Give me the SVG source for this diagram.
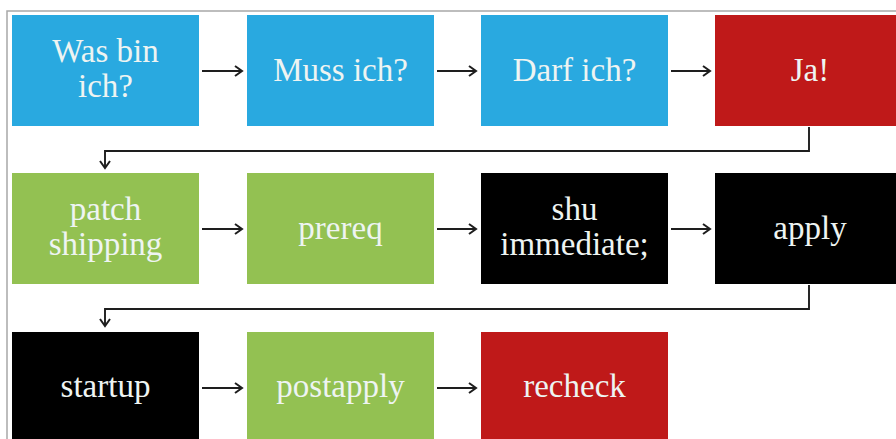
<svg xmlns="http://www.w3.org/2000/svg" width="896" height="439" viewBox="0 0 896 439">
<defs>
<style>
.b{fill:#29a9e0}.r{fill:#bf1919}.g{fill:#93c152}.k{fill:#000}
text{font-family:"Liberation Serif","DejaVu Serif",serif;font-size:33px;fill:#eef4f2;text-anchor:middle}
.c{fill:none;stroke:#1e1e1e;stroke-width:1.9}
</style>
<marker id="a" markerWidth="12" markerHeight="12" refX="10" refY="6" orient="auto" markerUnits="userSpaceOnUse">
<path d="M3,1 L10,6 L3,11" fill="none" stroke="#1e1e1e" stroke-width="2"/>
</marker>
</defs>
<rect width="896" height="439" fill="#fff"/>
<path d="M7,439 V11 H896" fill="none" stroke="#a8a8a8" stroke-width="1.5"/>
<g id="n1"><rect class="b" x="12" y="15" width="187" height="111"/><text x="105.5" y="62">Was bin</text><text x="105.5" y="97">ich?</text></g>
<g id="n2"><rect class="b" x="247" y="15" width="187" height="111"/><text x="340.5" y="81">Muss ich?</text></g>
<g id="n3"><rect class="b" x="481" y="15" width="187" height="111"/><text x="574.5" y="81">Darf ich?</text></g>
<g id="n4"><rect class="r" x="715" y="15" width="190" height="111"/><text x="810" y="81">Ja!</text></g>
<g id="n5"><rect class="g" x="12" y="173" width="187" height="111"/><text x="105.5" y="220">patch</text><text x="105.5" y="255">shipping</text></g>
<g id="n6"><rect class="g" x="247" y="173" width="187" height="111"/><text x="340.5" y="239">prereq</text></g>
<g id="n7"><rect class="k" x="481" y="173" width="187" height="111"/><text x="574.5" y="220">shu</text><text x="574.5" y="255">immediate;</text></g>
<g id="n8"><rect class="k" x="715" y="173" width="190" height="111"/><text x="810" y="239">apply</text></g>
<g id="n9"><rect class="k" x="12" y="332" width="187" height="111"/><text x="105.5" y="397">startup</text></g>
<g id="n10"><rect class="g" x="247" y="332" width="187" height="111"/><text x="340.5" y="397">postapply</text></g>
<g id="n11"><rect class="r" x="481" y="332" width="187" height="111"/><text x="574.5" y="397">recheck</text></g>
<g id="connectors">
<path class="c" d="M202,71 H242" marker-end="url(#a)"/>
<path class="c" d="M437,71 H476" marker-end="url(#a)"/>
<path class="c" d="M671,71 H710" marker-end="url(#a)"/>
<path class="c" d="M809,127 V151 H105 V168" marker-end="url(#a)"/>
<path class="c" d="M202,229 H242" marker-end="url(#a)"/>
<path class="c" d="M437,229 H476" marker-end="url(#a)"/>
<path class="c" d="M671,229 H710" marker-end="url(#a)"/>
<path class="c" d="M809,285 V309 H105 V326" marker-end="url(#a)"/>
<path class="c" d="M202,388 H242" marker-end="url(#a)"/>
<path class="c" d="M437,388 H476" marker-end="url(#a)"/>
</g>
</svg>
